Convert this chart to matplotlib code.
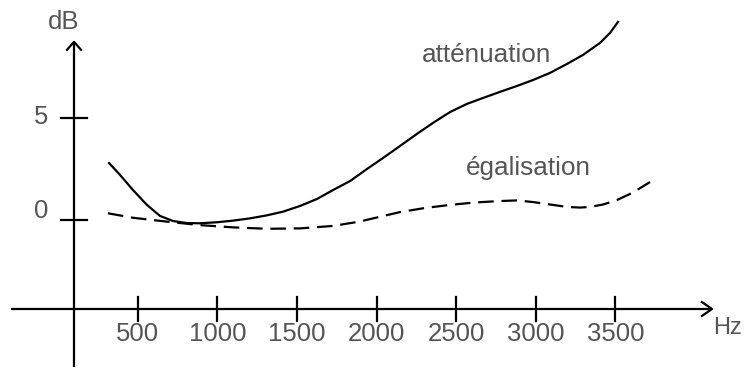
import matplotlib
matplotlib.use("Agg")
import matplotlib.pyplot as plt
from matplotlib import font_manager

# ---------------- data ----------------
att_hz = [320, 389, 470, 558, 640, 722, 810, 891, 998, 1099, 1205, 1312, 1413, 1520,
          1626, 1727, 1834, 1940, 2041, 2148, 2254, 2355, 2462, 2568, 2669, 2776,
          2883, 2983, 3090, 3197, 3297, 3404, 3467, 3517]
att_db = [2.79, 2.21, 1.47, 0.74, 0.20, -0.05, -0.15, -0.16, -0.11, -0.03, 0.08, 0.23,
          0.41, 0.69, 1.03, 1.47, 1.91, 2.50, 3.04, 3.63, 4.22, 4.76, 5.29, 5.69,
          5.98, 6.28, 6.57, 6.86, 7.21, 7.65, 8.09, 8.68, 9.17, 9.71]

ega_hz = [313, 470, 684, 891, 1099, 1312, 1520, 1727, 1891, 2148, 2305, 2462, 2619,
          2776, 2883, 2983, 3090, 3197, 3278, 3341, 3423, 3511, 3611, 3718]
ega_db = [0.33, 0.11, -0.08, -0.25, -0.36, -0.43, -0.41, -0.29, -0.08, 0.39, 0.59,
          0.74, 0.86, 0.93, 0.96, 0.88, 0.76, 0.64, 0.61, 0.64, 0.76, 0.98, 1.35, 1.86]

x_ticks = [500, 1000, 1500, 2000, 2500, 3000, 3500]
x_tick_labels = ["500", "1000", "1500", "2000", "2500", "3000", "3500"]
y_ticks = [5, 0]
y_tick_labels = ["5", "0"]
y_label_offsets = [0.07, 0.42]

# ---------------- fonts ----------------
available = {f.name for f in font_manager.fontManager.ttflist}
num_font = "Liberation Sans" if "Liberation Sans" in available else "DejaVu Sans"
num_size = 18.5
word_font = num_font
txt_color = "#555555"

# ---------------- figure ----------------
fig = plt.figure(figsize=(7.47, 3.69), dpi=100)
ax = fig.add_axes([0, 0, 1, 1])
ax.set_xlim(-365, 4327)
ax.set_ylim(-7.30, 10.78)
ax.axis("off")

lw = 1.6
x_axis_y = -4.36
y_axis_x = 100

# axes lines
ax.plot([-296, 4107], [x_axis_y, x_axis_y], color="black", lw=lw, solid_capstyle="butt")
ax.plot([y_axis_x, y_axis_x], [-7.2, 8.73], color="black", lw=lw, solid_capstyle="butt")
# arrow heads (open V)
ax.plot([4107 - 63, 4107, 4107 - 63], [x_axis_y + 0.34, x_axis_y, x_axis_y - 0.34],
        color="black", lw=lw)
ax.plot([y_axis_x - 44, y_axis_x, y_axis_x + 44], [8.73 - 0.39, 8.73, 8.73 - 0.39],
        color="black", lw=lw)

# ticks
for xt, lab in zip(x_ticks, x_tick_labels):
    ax.plot([xt, xt], [x_axis_y - 0.59, x_axis_y + 0.59], color="black", lw=lw)
    ax.text(xt, x_axis_y - 0.62, lab, ha="center", va="top", fontsize=num_size,
            family=num_font, color=txt_color)
for yt, lab, off in zip(y_ticks, y_tick_labels, y_label_offsets):
    ax.plot([y_axis_x - 82, y_axis_x + 82], [yt, yt], color="black", lw=lw)
    ax.text(-64, yt + off, lab, ha="right", va="center", fontsize=num_size,
            family=num_font, color=txt_color)

ax.text(-66, 9.72, "dB", ha="left", va="center", fontsize=num_size,
        family=num_font, color=txt_color)
ax.text(4114, -5.30, "Hz", ha="left", va="center", fontsize=17,
        family=num_font, color=txt_color)

# curves
ax.plot(att_hz, att_db, color="black", lw=lw, solid_joinstyle="round")
ax.plot(ega_hz, ega_db, color="black", lw=lw, linestyle=(0, (7, 3.5)))

ax.text(2693, 8.09, "atténuation", ha="center", va="center", fontsize=18.8,
        family=word_font, color=txt_color)
ax.text(2953, 2.55, "égalisation", ha="center", va="center", fontsize=18.8,
        family=word_font, color=txt_color)

fig.savefig("out.png", dpi=100)
